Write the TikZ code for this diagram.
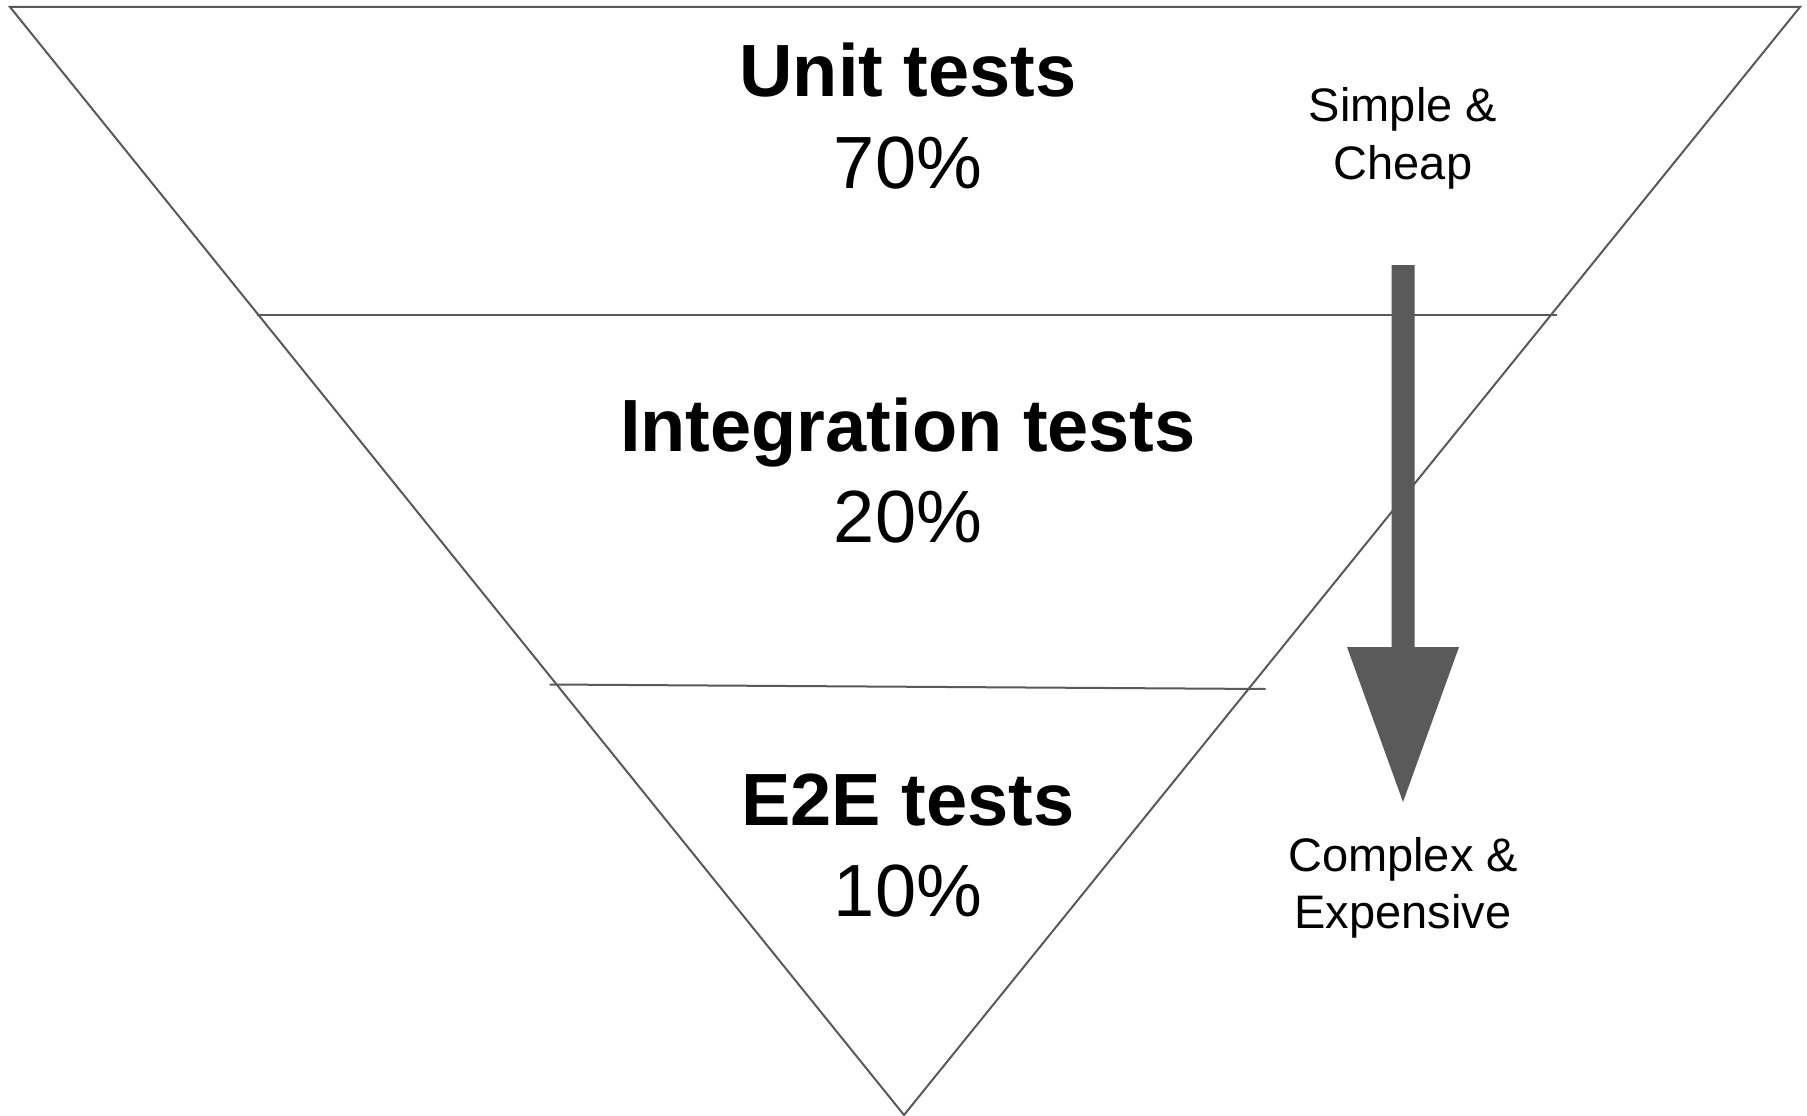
\documentclass[tikz,border=0pt]{standalone}
\usepackage{fontspec}
\setmainfont{Liberation Sans}
\definecolor{edgegray}{HTML}{595959}
\definecolor{arrowgray}{HTML}{5A5A5A}
\tikzset{
  edge/.style={draw=edgegray, line width=2pt},
  title/.style={font=\bfseries\fontsize{74}{88}\selectfont, anchor=base, inner sep=0pt},
  share/.style={font=\fontsize{74}{88}\selectfont, anchor=base, inner sep=0pt},
  side/.style={font=\fontsize{47}{57.5}\selectfont, align=center, anchor=base, inner sep=0pt},
}
\begin{document}
\begin{tikzpicture}[x=1pt, y=-1pt]
  \useasboundingbox (0,0) rectangle (1807,1116);
  \fill[white] (0,0) rectangle (1807,1116);

  % inverted pyramid
  \coordinate (tl) at (10,7);
  \coordinate (tr) at (1800,7);
  \coordinate (apex) at (904,1115);
  \draw[edge, line join=miter] (tl) -- (tr) -- (apex) -- cycle;

  % layer dividers
  \coordinate (d1l) at (256.5,315);
  \coordinate (d1r) at (1557,315);
  \coordinate (d2l) at (549.5,684.5);
  \coordinate (d2r) at (1265.5,689);
  \draw[edge] (d1l) -- (d1r);
  \draw[edge] (d2l) -- (d2r);

  % layer labels
  \node[title] (unit) at (908,96.5) {Unit tests};
  \node[share] (unitp) at (908,188) {70\%};
  \node[title] (integ) at (908,451) {Integration tests};
  \node[share] (integp) at (908,542.5) {20\%};
  \node[title] (e2e) at (908,825) {E2E tests};
  \node[share] (e2ep) at (908,916.5) {10\%};

  % cost direction (base anchor sits on the last line)
  \node[side] (cheap) at (1403,179.3) {Simple \&\\Cheap};
  \node[side] (costly) at (1403,928.5) {Complex \&\\Expensive};

  \coordinate (sh1) at (1391.5,265);
  \coordinate (sh2) at (1414.5,265);
  \coordinate (sh3) at (1414.5,647);
  \coordinate (hd1) at (1459,647);
  \coordinate (tip) at (1403,802);
  \coordinate (hd2) at (1347,647);
  \coordinate (sh4) at (1391.5,647);
  \fill[arrowgray] (sh1) -- (sh2) -- (sh3) -- (hd1) -- (tip) -- (hd2) -- (sh4) -- cycle;
\end{tikzpicture}
\end{document}
